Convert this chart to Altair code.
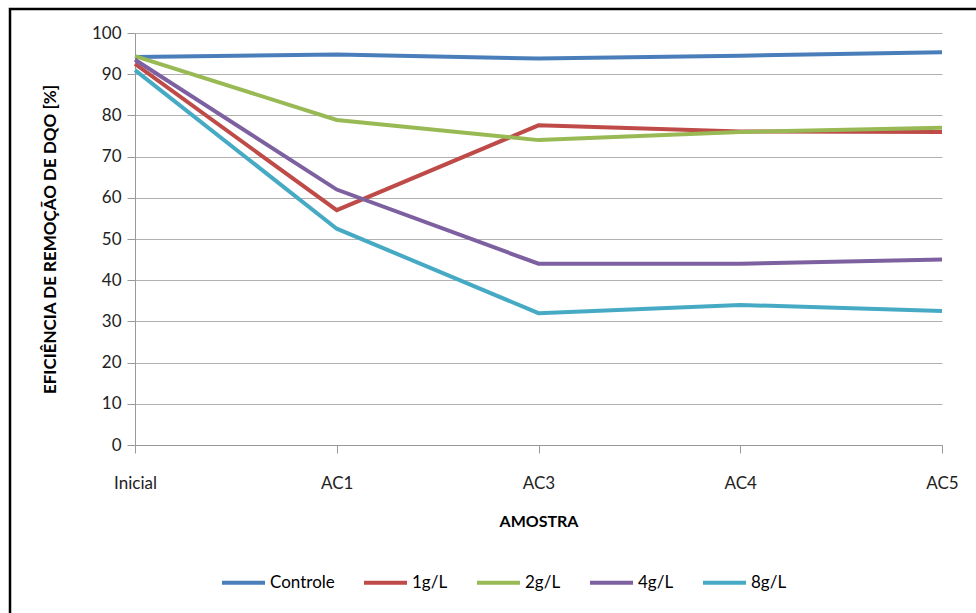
import altair as alt
import pandas as pd

# Sample points along the x axis
amostras = ["Inicial", "AC1", "AC3", "AC4", "AC5"]

# COD removal efficiency (%) per treatment
controle = [94.2, 94.8, 93.8, 94.5, 95.3]
g1 = [92.5, 57.0, 77.6, 76.1, 76.0]
g2 = [94.4, 78.9, 74.0, 76.0, 77.0]
g4 = [93.5, 62.0, 44.0, 44.0, 45.0]
g8 = [91.0, 52.5, 32.0, 34.0, 32.5]

series_names = ["Controle", "1g/L", "2g/L", "4g/L", "8g/L"]
series_values = [controle, g1, g2, g4, g8]
series_colors = ["#4A7EBB", "#BE4B48", "#98B954", "#7D60A0", "#46AAC5"]

rows = []
for name, vals in zip(series_names, series_values):
    for i, (a, v) in enumerate(zip(amostras, vals)):
        rows.append({"Amostra": a, "Ordem": i, "Serie": name, "Valor": v})
df = pd.DataFrame(rows)

FONT = "Lato"

lines = alt.Chart(df).mark_line(strokeWidth=4, clip=False).encode(
    x=alt.X(
        "Amostra:N",
        sort=amostras,
        scale=alt.Scale(type="point", padding=0),
        axis=alt.Axis(
            title="AMOSTRA",
            labelAngle=0,
            labelPadding=22,
            tickSize=8,
            tickColor="#999999",
            domainColor="#999999",
            grid=False,
            titlePadding=22,
        ),
    ),
    y=alt.Y(
        "Valor:Q",
        scale=alt.Scale(domain=[0, 100], nice=False),
        axis=alt.Axis(
            title="EFICIÊNCIA DE REMOÇÃO DE DQO [%]",
            values=list(range(0, 101, 10)),
            tickSize=8,
            tickColor="#999999",
            domainColor="#999999",
            gridColor="#b0b0b0",
            labelPadding=6,
            titlePadding=32,
            titleFontSize=17,
        ),
    ),
    color=alt.Color(
        "Serie:N",
        sort=series_names,
        scale=alt.Scale(domain=series_names, range=series_colors),
        legend=alt.Legend(
            title=None,
            orient="none",
            direction="horizontal",
            columns=5,
            legendX=85,
            legendY=526,
            symbolType="stroke",
            symbolSize=1849,
            symbolStrokeWidth=4,
            labelOffset=3,
            columnPadding=21,
            labelFontSize=17,
            labelFont=FONT,
            labelColor="#000000",
        ),
    ),
    order=alt.Order("Ordem:Q"),
)

# Black frame around the whole figure
frame = alt.Chart(pd.DataFrame({"k": [0]})).mark_rect(
    filled=False, stroke="black", strokeWidth=2.5, clip=False
).encode(
    x=alt.value(-125),
    x2=alt.value(860),
    y=alt.value(-24),
    y2=alt.value(600),
)

chart = alt.layer(frame, lines).properties(
    width=807,
    height=412,
    autosize=alt.AutoSizeParams(type="none"),
    padding={"left": 135, "top": 33, "right": 34, "bottom": 168},
).configure(
    background="white"
).configure_view(
    stroke=None
).configure_axis(
    labelFont=FONT,
    labelFontSize=17,
    labelColor="#222222",
    titleFont=FONT,
    titleFontSize=16,
    titleFontWeight="bold",
    titleColor="#000000",
)

chart.save("out.html", embed_options={"renderer": "svg", "actions": False})
